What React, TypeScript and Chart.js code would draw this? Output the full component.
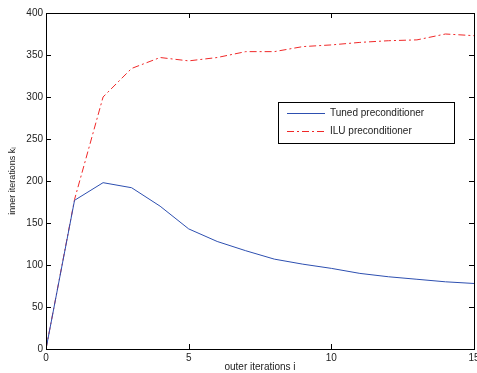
import React, { useEffect, useRef } from 'react';
import { Chart, registerables } from 'chart.js';
Chart.register(...registerables);

const outerIterations = [0, 1, 2, 3, 4, 5, 6, 7, 8, 9, 10, 11, 12, 13, 14, 15];
const tunedValues = [0, 177, 198, 192, 170, 143, 128, 117, 107, 101, 96, 90, 86, 83, 80, 78];
const iluValues = [0, 178, 300, 334, 347, 343, 347, 354, 354, 360, 362, 365, 367, 368, 375, 373];
const xTickValues = [0, 5, 10, 15];
const yTickValues = [0, 50, 100, 150, 200, 250, 300, 350, 400];
const seriesNames = ['Tuned preconditioner', 'ILU preconditioner'];
const xTitle = 'outer iterations i';
const yTitle = 'inner iterations kᵢ';

const FONT = '"Liberation Sans", Arial, Helvetica, sans-serif';
const BLUE = '#2d4fb0';
const RED = '#f02828';
const RED_DASH = [7, 3, 2, 3];

const framePlugin = {
  id: 'frame',
  afterDraw(chart: any) {
    const { ctx, chartArea: a, scales } = chart;
    const xs = scales.x;
    const ys = scales.y;
    ctx.save();
    ctx.strokeStyle = '#000';
    ctx.lineWidth = 1;
    ctx.strokeRect(Math.round(a.left) + 0.5, Math.round(a.top) + 0.5, Math.round(a.right - a.left), Math.round(a.bottom - a.top));
    const tl = 5;
    ctx.beginPath();
    for (const v of xTickValues) {
      const px = Math.round(xs.getPixelForValue(v)) + 0.5;
      ctx.moveTo(px, a.bottom);
      ctx.lineTo(px, a.bottom - tl);
      ctx.moveTo(px, a.top);
      ctx.lineTo(px, a.top + tl);
    }
    for (const v of yTickValues) {
      const py = Math.round(ys.getPixelForValue(v)) + 0.5;
      ctx.moveTo(a.left, py);
      ctx.lineTo(a.left + tl, py);
      ctx.moveTo(a.right, py);
      ctx.lineTo(a.right - tl, py);
    }
    ctx.stroke();

    // legend
    const lx = 278.5, ly = 102.5, lw = 176, lh = 41;
    ctx.fillStyle = '#fff';
    ctx.fillRect(lx, ly, lw, lh);
    ctx.strokeStyle = '#000';
    ctx.strokeRect(lx, ly, lw, lh);
    const rows = [
      { name: seriesNames[0], color: BLUE, dash: [] as number[], y: 113.5 },
      { name: seriesNames[1], color: RED, dash: RED_DASH, y: 131.5 },
    ];
    ctx.font = '10px ' + FONT;
    ctx.textBaseline = 'middle';
    ctx.textAlign = 'left';
    for (const r of rows) {
      ctx.strokeStyle = r.color;
      ctx.setLineDash(r.dash);
      ctx.beginPath();
      ctx.moveTo(287, r.y);
      ctx.lineTo(325, r.y);
      ctx.stroke();
      ctx.setLineDash([]);
      ctx.fillStyle = '#222';
      ctx.fillText(r.name, 330, r.y);
    }
    ctx.restore();
  },
};

export default function App() {
  const ref = useRef<HTMLCanvasElement>(null);
  useEffect(() => {
    document.body.style.margin = '0';
    const chart = new Chart(ref.current!, {
      type: 'line',
      data: {
        labels: outerIterations,
        datasets: [
          {
            label: seriesNames[0],
            data: outerIterations.map((x, i) => ({ x, y: tunedValues[i] })),
            borderColor: BLUE,
            borderWidth: 1,
            pointRadius: 0,
            tension: 0,
            fill: false,
          },
          {
            label: seriesNames[1],
            data: outerIterations.map((x, i) => ({ x, y: iluValues[i] })),
            borderColor: RED,
            borderWidth: 1,
            borderDash: RED_DASH,
            pointRadius: 0,
            tension: 0,
            fill: false,
          },
        ],
      },
      options: {
        animation: false,
        responsive: false,
        maintainAspectRatio: false,
        layout: { padding: { top: 13, right: 3, left: 0, bottom: 0 } },
        plugins: { legend: { display: false }, tooltip: { enabled: false } },
        scales: {
          x: {
            type: 'linear',
            min: 0,
            max: 15,
            afterBuildTicks: (s: any) => { s.ticks = xTickValues.map((v) => ({ value: v })); },
            afterFit: (s: any) => { s.height = 24; s.paddingLeft = 0; s.paddingRight = 0; },
            grid: { display: false, drawTicks: false },
            border: { display: false },
            ticks: { color: '#222', font: { family: FONT, size: 10 }, padding: 3, maxRotation: 0 },
            title: { display: true, text: xTitle, color: '#222', font: { family: FONT, size: 10 }, padding: { top: 0, bottom: 0 } },
          },
          y: {
            type: 'linear',
            min: 0,
            max: 400,
            afterBuildTicks: (s: any) => { s.ticks = yTickValues.map((v) => ({ value: v })); },
            afterFit: (s: any) => { s.width = 46; s.paddingTop = 0; s.paddingBottom = 0; },
            grid: { display: false, drawTicks: false },
            border: { display: false },
            ticks: { color: '#222', font: { family: FONT, size: 10 }, padding: 3 },
            title: { display: true, text: yTitle, color: '#222', font: { family: FONT, size: 9 }, padding: { top: 7, bottom: 0 } },
          },
        },
      },
      plugins: [framePlugin],
    } as any);
    return () => chart.destroy();
  }, []);
  return (
    <div style={{ width: 477, height: 373 }}>
      <canvas ref={ref} width={477} height={373} style={{ display: 'block' }} />
    </div>
  );
}
